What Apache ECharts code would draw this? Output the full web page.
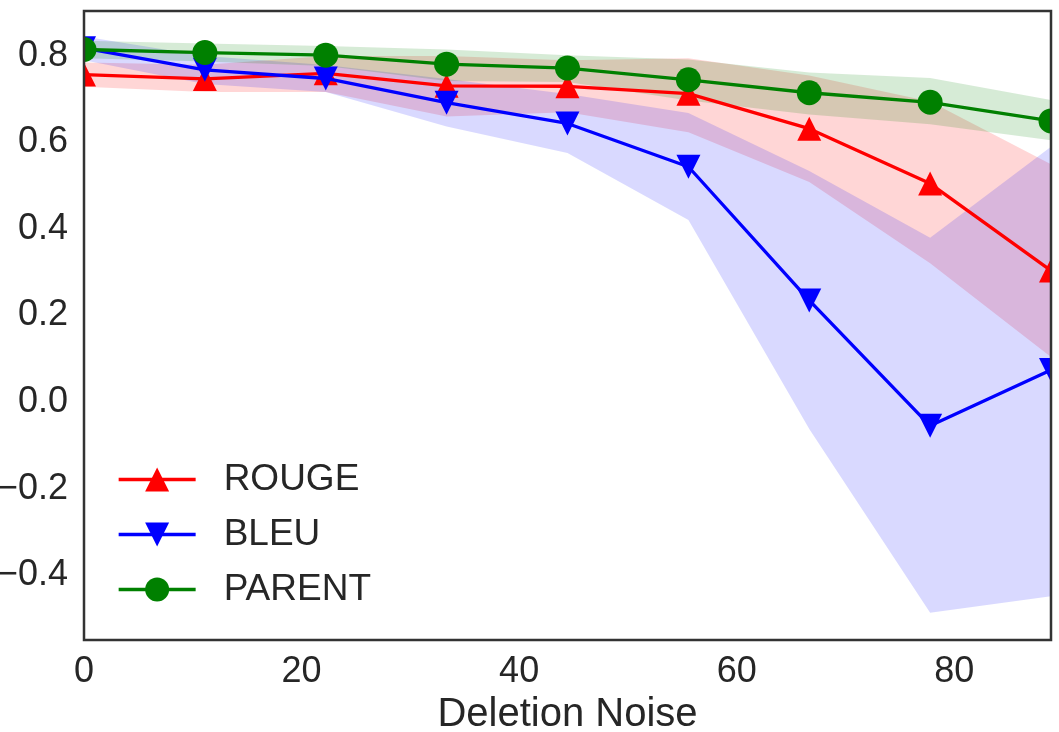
<!DOCTYPE html>
<html>
<head>
<meta charset="utf-8">
<title>Deletion Noise</title>
<script src="https://cdn.jsdelivr.net/npm/echarts@6/dist/echarts.min.js"></script>
<style>
  html, body { margin: 0; padding: 0; background: #fff; }
  #plot-area { width: 1059px; height: 732px; }
</style>
</head>
<body>
<div id="plot-area"></div>
<script>
// x positions (deletion noise, %)
const noise = [0, 11.11, 22.22, 33.33, 44.44, 55.56, 66.67, 77.78, 88.89];
const xTicks = [0, 20, 40, 60, 80];
const yTicks = [-0.4, -0.2, 0, 0.2, 0.4, 0.6, 0.8];

const rougeMean = [0.757, 0.747, 0.760, 0.731, 0.730, 0.713, 0.632, 0.505, 0.304];
const rougeLow = [0.729, 0.717, 0.717, 0.660, 0.670, 0.624, 0.509, 0.321, 0.104];
const rougeHigh = [0.785, 0.780, 0.800, 0.800, 0.790, 0.795, 0.755, 0.695, 0.550];

const bleuMean = [0.818, 0.768, 0.748, 0.692, 0.644, 0.544, 0.235, -0.055, 0.074];
const bleuLow = [0.790, 0.735, 0.717, 0.637, 0.576, 0.421, -0.062, -0.487, -0.449];
const bleuHigh = [0.845, 0.800, 0.779, 0.747, 0.712, 0.668, 0.534, 0.380, 0.590];

const parentMean = [0.815, 0.808, 0.802, 0.781, 0.772, 0.745, 0.715, 0.693, 0.650];
const parentLow = [0.795, 0.787, 0.777, 0.742, 0.740, 0.697, 0.665, 0.642, 0.605];
const parentHigh = [0.835, 0.829, 0.823, 0.815, 0.802, 0.792, 0.762, 0.749, 0.698];

document.addEventListener('DOMContentLoaded', (event) => {
  const W = 1059, H = 732;
  const GRID = { left: 84, right: 8, top: 11, bottom: 92 };
  const FONT = "'Liberation Sans', Arial, sans-serif";
  const TEXT = '#262626';

  const plotDiv = document.getElementById('plot-area');
  const chart = echarts.init(plotDiv);

  // shaded band between low and high, drawn as one polygon
  function band(name, low, high, fill) {
    return {
      type: 'custom',
      name: name + '-band',
      z: 1,
      silent: true,
      data: noise.map((x, i) => [x, low[i], high[i]]),
      encode: { x: 0, y: [1, 2] },
      renderItem: (params, api) => {
        if (params.dataIndex !== 0) return null;
        const top = noise.map((x, i) => api.coord([x, high[i]]));
        const bottom = noise.map((x, i) => api.coord([x, low[i]])).reverse();
        return {
          type: 'polygon',
          shape: { points: top.concat(bottom) },
          style: { fill: fill }
        };
      }
    };
  }

  function line(name, values, color, symbol, size, rotate, z) {
    return {
      type: 'line',
      name: name,
      z: z,
      data: noise.map((x, i) => [x, values[i]]),
      symbol: symbol,
      symbolSize: size,
      symbolRotate: rotate,
      showAllSymbol: true,
      lineStyle: { color: color, width: 3.3 },
      itemStyle: { color: color },
      emphasis: { disabled: true }
    };
  }

  const fmtY = v => (v < -1e-9 ? '\u2212' : '') + Math.abs(v).toFixed(1);

  const option = {
    animation: false,
    backgroundColor: '#fff',
    grid: {
      left: GRID.left, right: GRID.right, top: GRID.top, bottom: GRID.bottom,
      outerBoundsMode: 'none',
      containLabel: false
    },
    xAxis: {
      type: 'value',
      min: 0,
      max: 88.89,
      name: 'Deletion Noise',
      nameLocation: 'middle',
      nameGap: 55,
      nameTextStyle: { fontFamily: FONT, fontSize: 40, color: TEXT },
      axisLine: { show: false },
      axisTick: { show: false },
      splitLine: { show: false },
      axisLabel: {
        customValues: xTicks,
        margin: 14,
        fontFamily: FONT,
        fontSize: 36,
        color: TEXT
      }
    },
    yAxis: {
      type: 'value',
      min: -0.55,
      max: 0.904,
      axisLine: { show: false },
      axisTick: { show: false },
      splitLine: { show: false },
      axisLabel: {
        customValues: yTicks,
        formatter: fmtY,
        margin: 16,
        fontFamily: FONT,
        fontSize: 36,
        color: TEXT
      }
    },
    legend: {
      data: ['ROUGE', 'BLEU', 'PARENT'],
      orient: 'vertical',
      left: 117,
      top: 461,
      padding: 0,
      itemWidth: 77,
      itemHeight: 30,
      itemGap: 18,
      selectedMode: false,
      lineStyle: { width: 3.3 },
      textStyle: {
        fontFamily: FONT,
        fontSize: 37,
        color: TEXT,
        padding: [0, 0, 0, 23]
      }
    },
    series: [
      band('ROUGE', rougeLow, rougeHigh, 'rgba(255,0,0,0.16)'),
      band('BLEU', bleuLow, bleuHigh, 'rgba(0,0,255,0.15)'),
      band('PARENT', parentLow, parentHigh, 'rgba(0,128,0,0.16)'),
      line('ROUGE', rougeMean, '#ff0000', 'triangle', 24, 0, 2),
      line('BLEU', bleuMean, '#0000ff', 'triangle', 24, 180, 3),
      line('PARENT', parentMean, '#008000', 'circle', 25, 0, 4)
    ],
    graphic: [
      // hide marker parts outside the axes, like matplotlib clipping
      { type: 'rect', z: 100, silent: true,
        shape: { x: GRID.left - 14, y: 0, width: 14, height: H - GRID.bottom },
        style: { fill: '#fff' } },
      { type: 'rect', z: 100, silent: true,
        shape: { x: W - GRID.right, y: 0, width: GRID.right, height: H - GRID.bottom },
        style: { fill: '#fff' } },
      // axes frame
      { type: 'rect', z: 101, silent: true,
        shape: { x: GRID.left, y: GRID.top, width: W - GRID.left - GRID.right, height: H - GRID.top - GRID.bottom },
        style: { fill: null, stroke: '#333', lineWidth: 2.5 } }
    ]
  };

  chart.setOption(option);
});
</script>
</body>
</html>
